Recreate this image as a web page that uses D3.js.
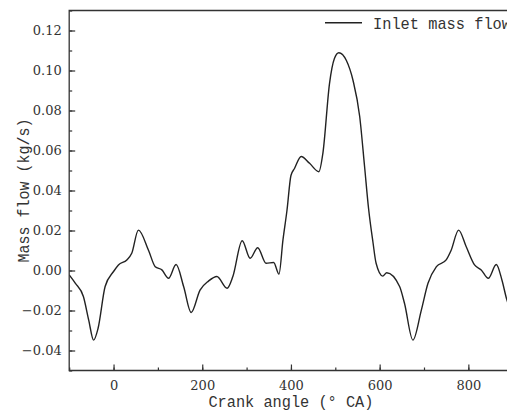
<!DOCTYPE html>
<html>
<head>
<meta charset="utf-8">
<script src="https://cdn.jsdelivr.net/npm/d3@7"></script>
<style>
  html, body { margin: 0; padding: 0; background: #fff; }
  svg { display: block; }
</style>
</head>
<body>
<svg id="chart" width="507" height="412"></svg>
<script>
// Crank angle (deg) and inlet mass flow (kg/s)
const crankAngle = [
  -100, -86, -68, -56, -45, -35, -19, 0, 11, 30, 41, 56, 79, 94, 109, 124, 141, 158, 175, 195,
  214, 233, 256, 269, 290, 308, 325, 344, 361, 373, 382, 391, 400, 408, 423, 442, 463, 472, 487, 498,
  508, 525, 540, 555, 566, 575, 585, 592, 607, 616, 645, 656, 675, 694, 709, 728, 750, 761, 778, 795,
  814, 829, 845, 863, 876, 886, 897
];
const massFlow = [
  -0.0022, -0.0064, -0.0130, -0.0248, -0.0348, -0.0290, -0.0080, -0.0005, 0.0028, 0.0053, 0.0086, 0.0202, 0.0100, 0.0019, 0.0003, -0.0039, 0.0030, -0.0080, -0.0210, -0.0098,
  -0.0053, -0.0030, -0.0089, -0.0030, 0.0149, 0.0061, 0.0114, 0.0036, 0.0040, -0.0018, 0.0153, 0.0300, 0.0475, 0.0510, 0.0570, 0.0536, 0.0494, 0.0586, 0.0936, 0.1060,
  0.1089, 0.1050, 0.0950, 0.0770, 0.0520, 0.0310, 0.0140, 0.0036, -0.0028, -0.0011, -0.0080, -0.0164, -0.0348, -0.0198, -0.0064, 0.0019, 0.0053, 0.0100, 0.0202, 0.0120,
  0.0028, 0.0003, -0.0039, 0.0030, -0.0050, -0.0140, -0.0210
];
const xTicks = [0, 200, 400, 600, 800];
const yTicks = [-0.04, -0.02, 0.00, 0.02, 0.04, 0.06, 0.08, 0.10, 0.12];
const seriesName = "Inlet mass flow";
const xTitle = "Crank angle (° CA)";
const yTitle = "Mass flow (kg/s)";

const data = crankAngle.map((a, i) => ({ a, v: massFlow[i] }));

const svg = d3.select("#chart");
const plotLeft = 69.2, plotRight = 512.7, plotTop = 10.5, plotBottom = 370.5;

const x = d3.scaleLinear().domain([-100, 900]).range([plotLeft, plotRight]);
const y = d3.scaleLinear().domain([-0.05, 0.13]).range([plotBottom, plotTop]);

const ink = "#333";
const serif = "DejaVu Serif, serif";
const mono = "Liberation Mono, DejaVu Sans Mono, monospace";

// clip for the series
svg.append("clipPath").attr("id", "plotClip")
  .append("rect").attr("x", plotLeft).attr("y", plotTop)
  .attr("width", plotRight - plotLeft).attr("height", plotBottom - plotTop);

// the curve
const line = d3.line()
  .x(d => x(d.a))
  .y(d => y(d.v))
  .curve(d3.curveMonotoneX);

svg.append("path")
  .datum(data)
  .attr("clip-path", "url(#plotClip)")
  .attr("fill", "none")
  .attr("stroke", "#222")
  .attr("stroke-width", 1.4)
  .attr("stroke-linejoin", "round")
  .attr("d", line);

// x axis: ticks point into the plot
const xAxis = svg.append("g").attr("transform", `translate(0,${plotBottom})`);
xAxis.append("g")
  .call(d3.axisBottom(x).tickValues(d3.range(-100, 901, 100)).tickSize(-3).tickFormat(""))
  .call(g => g.select(".domain").remove());
xAxis.append("g")
  .call(d3.axisBottom(x).tickValues(xTicks).tickSize(-6).tickPadding(0).tickFormat(d3.format("d")))
  .call(g => g.select(".domain").remove());
xAxis.selectAll(".tick line").attr("stroke", ink).attr("stroke-width", 1.2);
xAxis.selectAll("g").attr("font-family", null).attr("font-size", null);
xAxis.selectAll(".tick text")
  .attr("y", 19.5)
  .attr("dy", 0)
  .attr("fill", ink)
  .attr("font-family", serif)
  .attr("font-size", 13);

// y axis: ticks point into the plot
const yAxis = svg.append("g").attr("transform", `translate(${plotLeft},0)`);
yAxis.append("g")
  .call(d3.axisLeft(y).tickValues(d3.range(-0.05, 0.1301, 0.01)).tickSize(-3).tickFormat(""))
  .call(g => g.select(".domain").remove());
yAxis.append("g")
  .call(d3.axisLeft(y).tickValues(yTicks).tickSize(-6).tickFormat(d3.format(".2f")))
  .call(g => g.select(".domain").remove());
yAxis.selectAll(".tick line").attr("stroke", ink).attr("stroke-width", 1.2);
yAxis.selectAll("g").attr("font-family", null).attr("font-size", null);
yAxis.selectAll(".tick text")
  .attr("x", -7.5)
  .attr("fill", ink)
  .attr("font-family", serif)
  .attr("font-size", 13);

// frame: left, bottom and top edges
svg.append("path")
  .attr("d", `M${plotRight},${plotTop}H${plotLeft}V${plotBottom}H${plotRight}`)
  .attr("fill", "none")
  .attr("stroke", ink)
  .attr("stroke-width", 1.3);

// axis titles
svg.append("text")
  .attr("x", (plotLeft + plotRight) / 2)
  .attr("y", 406.5)
  .attr("text-anchor", "middle")
  .attr("textLength", 165)
  .attr("lengthAdjust", "spacingAndGlyphs")
  .attr("fill", ink)
  .attr("font-family", mono)
  .attr("font-size", 16)
  .text(xTitle);

svg.append("text")
  .attr("transform", `translate(29,${(plotTop + plotBottom) / 2}) rotate(-90)`)
  .attr("text-anchor", "middle")
  .attr("textLength", 144)
  .attr("lengthAdjust", "spacingAndGlyphs")
  .attr("fill", ink)
  .attr("font-family", mono)
  .attr("font-size", 17)
  .text(yTitle);

// legend
const legend = svg.append("g");
legend.append("line")
  .attr("x1", 325).attr("x2", 362)
  .attr("y1", 22.7).attr("y2", 22.7)
  .attr("stroke", "#222")
  .attr("stroke-width", 1.4);
legend.append("text")
  .attr("x", 373)
  .attr("y", 29.3)
  .attr("textLength", 138)
  .attr("lengthAdjust", "spacingAndGlyphs")
  .attr("fill", ink)
  .attr("font-family", mono)
  .attr("font-size", 17)
  .text(seriesName);
</script>
</body>
</html>
